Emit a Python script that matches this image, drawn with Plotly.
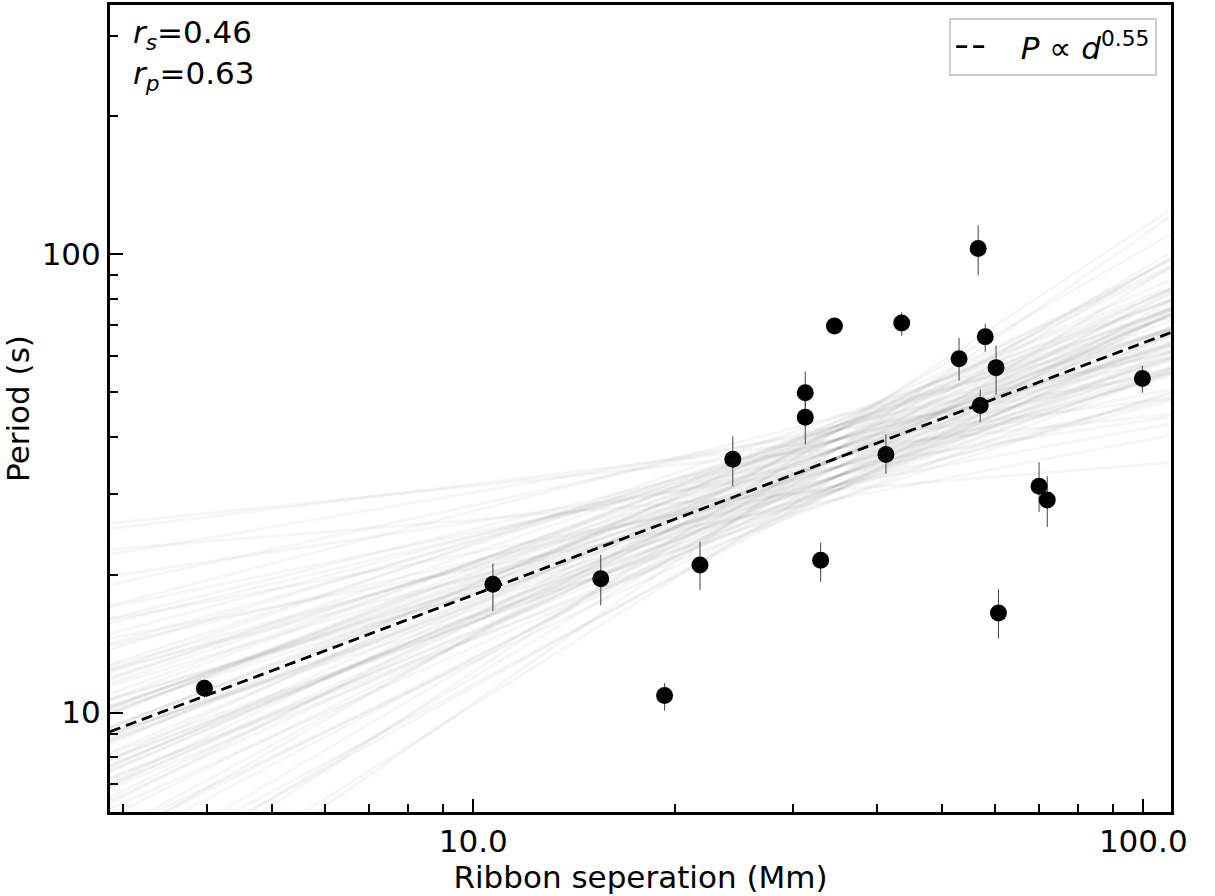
import plotly.graph_objects as go
import numpy as np

# data
separation = [3.97, 10.7, 15.5, 19.3, 21.8, 24.4, 31.3, 31.3, 33.0, 34.6, 41.3,
              43.6, 53.1, 56.7, 57.1, 58.1, 60.3, 60.8, 69.9, 71.9, 99.7]
period = [11.3, 19.05, 19.6, 10.9, 21.0, 35.7, 49.9, 44.1, 21.5, 69.8, 36.6,
          70.8, 59.2, 103.0, 46.8, 66.1, 56.6, 16.5, 31.2, 29.1, 53.6]
err_up = [0.5, 2.1, 2.5, 0.7, 2.6, 4.4, 5.6, 5.1, 2.0, 1.0, 3.9,
          4.0, 6.5, 12.6, 3.9, 4.4, 6.6, 2.1, 4.0, 3.7, 3.5]
err_down = [0.5, 2.4, 2.45, 0.8, 2.5, 4.5, 5.1, 5.6, 2.2, 1.0, 3.4,
            4.4, 6.2, 13.0, 3.8, 4.8, 7.2, 2.0, 3.8, 3.7, 3.7]

# power law fit P = A d^k
fit_index = 0.55
fit_coeff = 5.09

# bootstrap fits: slope and offset (dex) around pivot d=35 Mm
boot_pivot_d = 35.0
boot_pivot_p = 36.0
boot_slopes = [0.12, 0.18, 0.22, 0.25, 0.28, 0.30, 0.32, 0.34, 0.35, 0.37,
               0.38, 0.40, 0.41, 0.42, 0.43, 0.44, 0.45, 0.46, 0.47, 0.48,
               0.48, 0.49, 0.50, 0.50, 0.51, 0.52, 0.52, 0.53, 0.53, 0.54,
               0.54, 0.55, 0.55, 0.55, 0.56, 0.56, 0.57, 0.57, 0.58, 0.58,
               0.59, 0.60, 0.60, 0.61, 0.62, 0.62, 0.63, 0.64, 0.65, 0.66,
               0.67, 0.68, 0.69, 0.70, 0.72, 0.73, 0.75, 0.77, 0.79, 0.81,
               0.84, 0.88, 0.92, 0.97, 1.02,
               0.15, 0.27, 0.36, 0.44, 0.51, 0.57, 0.63, 0.71, 0.78, 0.86,
               0.39, 0.47, 0.53, 0.59, 0.66]
boot_offsets = [-0.07, 0.04, -0.02, 0.06, -0.09, 0.00, 0.07, -0.04, 0.02, -0.06,
                0.09, -0.02, 0.04, -0.07, 0.00, 0.06, -0.04, 0.02, -0.09, 0.07,
                -0.02, 0.04, -0.06, 0.00, 0.09, -0.04, 0.02, 0.06, -0.07, 0.00,
                0.04, -0.02, 0.07, -0.06, 0.02, -0.09, 0.06, 0.00, -0.04, 0.04,
                0.08, -0.02, -0.07, 0.02, 0.06, -0.04, 0.00, 0.07, -0.06, 0.04,
                -0.02, 0.08, -0.07, 0.02, 0.00, -0.04, 0.06, -0.02, 0.04, -0.06,
                0.07, 0.00, -0.04, 0.06, 0.02,
                0.02, -0.06, 0.04, -0.02, 0.07, -0.04, 0.00, 0.06, -0.07, 0.02,
                0.04, -0.04, 0.02, -0.06, 0.00]

x_range = [2.87, 110.0]
y_range = [6.07, 350.0]

x_ticks = [10, 100]
x_ticktext = ["10.0", "100.0"]
y_ticks = [10, 100]
y_ticktext = ["10", "100"]
x_minor = [3, 4, 5, 6, 7, 8, 9, 20, 30, 40, 50, 60, 70, 80, 90]
y_minor = [7, 8, 9, 20, 30, 40, 50, 60, 70, 80, 90, 200, 300]

FONT = "DejaVu Sans"
FS = 31

fig = go.Figure()

# points with error bars
fig.add_trace(go.Scatter(
    x=separation, y=period, mode="markers",
    marker=dict(color="black", size=17),
    error_y=dict(type="data", symmetric=False, array=err_up, arrayminus=err_down,
                 color="#444444", thickness=1, width=0),
    showlegend=False, hoverinfo="skip"))

# bootstrap lines on top of the points
xs = np.array(x_range)
for b, off in zip(boot_slopes, boot_offsets):
    ys = boot_pivot_p * 10 ** off * (xs / boot_pivot_d) ** b
    fig.add_trace(go.Scatter(
        x=xs, y=ys, mode="lines",
        line=dict(color="rgba(70,70,70,0.05)", width=3),
        showlegend=False, hoverinfo="skip"))

# best fit
fig.add_trace(go.Scatter(
    x=xs, y=fit_coeff * xs ** fit_index, mode="lines",
    line=dict(color="black", width=2.8, dash="11px,6px"),
    name="   <i>P</i> ∝ <i>d</i><sup>0.55</sup>"))

fig.add_annotation(x=0.02, y=0.963, xref="paper", yref="paper",
                   text="<i>r<sub>s</sub></i>=0.46", showarrow=False,
                   xanchor="left", yanchor="middle", font=dict(size=FS))
fig.add_annotation(x=0.02, y=0.913, xref="paper", yref="paper",
                   text="<i>r<sub>p</sub></i>=0.63", showarrow=False,
                   xanchor="left", yanchor="middle", font=dict(size=FS))

axis_common = dict(
    showgrid=False, zeroline=False, showline=True, linecolor="black", linewidth=3,
    mirror=True, ticks="inside", ticklen=13, tickwidth=2, tickcolor="black",
)

fig.update_xaxes(
    type="log", range=[np.log10(x_range[0]), np.log10(x_range[1])],
    tickvals=x_ticks, ticktext=x_ticktext,
    minor=dict(tickvals=x_minor, ticks="inside", ticklen=8, tickwidth=2,
               tickcolor="black", showgrid=False),
    title=dict(text="Ribbon seperation (Mm)", font=dict(size=FS), standoff=6),
    **axis_common)
fig.update_yaxes(
    type="log", range=[np.log10(y_range[0]), np.log10(y_range[1])],
    tickvals=y_ticks, ticktext=y_ticktext,
    minor=dict(tickvals=y_minor, ticks="inside", ticklen=8, tickwidth=2,
               tickcolor="black", showgrid=False),
    title=dict(text="Period (s)", font=dict(size=FS), standoff=6),
    **axis_common)

fig.update_layout(
    width=1215, height=896,
    margin=dict(l=110, r=44, t=2, b=84),
    plot_bgcolor="white", paper_bgcolor="white",
    font=dict(family=FONT, size=FS, color="black"),
    legend=dict(x=0.987, y=0.984, xanchor="right", yanchor="top",
                bgcolor="white", bordercolor="#cccccc", borderwidth=2,
                font=dict(size=FS)),
)

fig.write_html("out.html", config={"displayModeBar": False},
               post_script="document.body.style.margin='0px';")
